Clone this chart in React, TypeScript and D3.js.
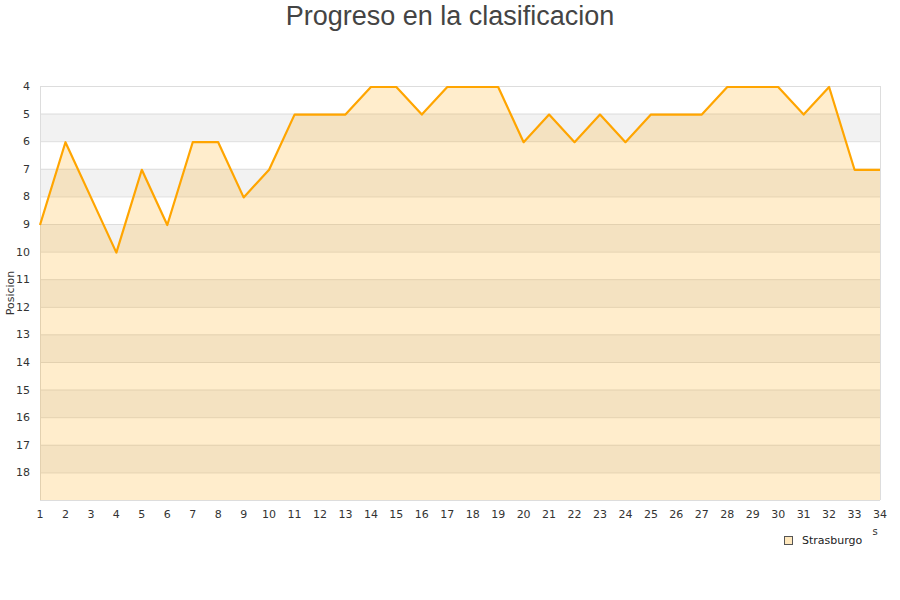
import * as d3 from 'd3';
import { useEffect, useRef } from 'react';

const jornadas = d3.range(1, 35);
const posiciones = [9, 6, 8, 10, 7, 9, 6, 6, 8, 7, 5, 5, 5, 4, 4, 5, 4, 4, 4, 6, 5, 6, 5, 6, 5, 5, 5, 4, 4, 4, 5, 4, 7, 7];
const yTicks = d3.range(4, 19);
const equipo = 'Strasburgo';
const titulo = 'Progreso en la clasificacion';

export default function App() {
    const ref = useRef<SVGSVGElement | null>(null);

    useEffect(() => {
        if (!ref.current) return;
        const svg = d3.select(ref.current);
        svg.selectAll('*').remove();

        const width = 900;
        const height = 600;
        const margin = { top: 86, right: 20, bottom: 100, left: 40 };
        const font = 'DejaVu Sans, sans-serif';

        const x = d3.scaleLinear().domain([1, 34]).range([margin.left, width - margin.right]);
        const y = d3.scaleLinear().domain([4, 19]).range([margin.top, height - margin.bottom]);

        // bandas alternas
        svg.append('g')
            .selectAll('rect')
            .data(yTicks.filter((d) => d % 2 === 1))
            .join('rect')
            .attr('x', margin.left)
            .attr('y', (d) => y(d))
            .attr('width', x(34) - x(1))
            .attr('height', y(1) - y(0))
            .attr('fill', '#f2f2f2');

        // grid
        svg.append('g')
            .selectAll('line')
            .data(d3.range(4, 20))
            .join('line')
            .attr('x1', margin.left)
            .attr('x2', x(34))
            .attr('y1', (d) => y(d) + 0.5)
            .attr('y2', (d) => y(d) + 0.5)
            .attr('stroke', '#dddddd');

        svg.append('line')
            .attr('x1', margin.left + 0.5)
            .attr('x2', margin.left + 0.5)
            .attr('y1', y(4))
            .attr('y2', y(19))
            .attr('stroke', '#dddddd');
        svg.append('line')
            .attr('x1', x(34) + 0.5)
            .attr('x2', x(34) + 0.5)
            .attr('y1', y(4))
            .attr('y2', y(19))
            .attr('stroke', '#dddddd');

        const area = d3
            .area<number>()
            .x((_, i) => x(jornadas[i]))
            .y0(y(19))
            .y1((d) => y(d));
        svg.append('path').datum(posiciones).attr('d', area).attr('fill', 'rgba(255,165,0,0.2)');

        const line = d3
            .line<number>()
            .x((_, i) => x(jornadas[i]))
            .y((d) => y(d) + 1);
        svg.append('path')
            .datum(posiciones)
            .attr('d', line)
            .attr('fill', 'none')
            .attr('stroke', '#ffa500')
            .attr('stroke-width', 2.2)
            .attr('stroke-linejoin', 'round');

        // ejes
        const yAxis = svg.append('g').attr('transform', `translate(${margin.left - 10},0)`);
        yAxis.selectAll('text')
            .data(yTicks)
            .join('text')
            .attr('x', 0)
            .attr('y', (d) => y(d) + 4)
            .attr('text-anchor', 'end')
            .attr('font-family', font)
            .attr('font-size', 11)
            .attr('fill', '#333')
            .text((d) => d);

        svg.append('g')
            .selectAll('text')
            .data(jornadas)
            .join('text')
            .attr('x', (d) => x(d))
            .attr('y', y(19) + 18)
            .attr('text-anchor', 'middle')
            .attr('font-family', font)
            .attr('font-size', 11)
            .attr('fill', '#333')
            .text((d) => d);

        svg.append('text')
            .attr('transform', `translate(14,${(y(4) + y(19)) / 2}) rotate(-90)`)
            .attr('text-anchor', 'middle')
            .attr('font-family', font)
            .attr('font-size', 11)
            .attr('fill', '#333')
            .text('Posicion');

        svg.append('text')
            .attr('x', 875)
            .attr('y', 535)
            .attr('text-anchor', 'middle')
            .attr('font-family', font)
            .attr('font-size', 10)
            .attr('fill', '#333')
            .text('s');

        svg.append('text')
            .attr('x', width / 2)
            .attr('y', 25)
            .attr('text-anchor', 'middle')
            .attr('font-family', 'Liberation Sans, Arial, sans-serif')
            .attr('font-size', 27)
            .attr('fill', '#444')
            .text(titulo);

        // leyenda
        const legend = svg.append('g').attr('transform', 'translate(784,536)');
        legend.append('rect')
            .attr('x', 0.5)
            .attr('y', 0.5)
            .attr('width', 8)
            .attr('height', 8)
            .attr('fill', '#ffe8bd')
            .attr('stroke', '#555');
        legend.append('text')
            .attr('x', 18)
            .attr('y', 8)
            .attr('font-family', font)
            .attr('font-size', 11)
            .attr('fill', '#222')
            .text(equipo);
    }, []);

    return (
        <svg
            ref={ref}
            width={900}
            height={600}
            style={{ position: 'absolute', left: 0, top: 0, background: '#fff' }}
        />
    );
}
